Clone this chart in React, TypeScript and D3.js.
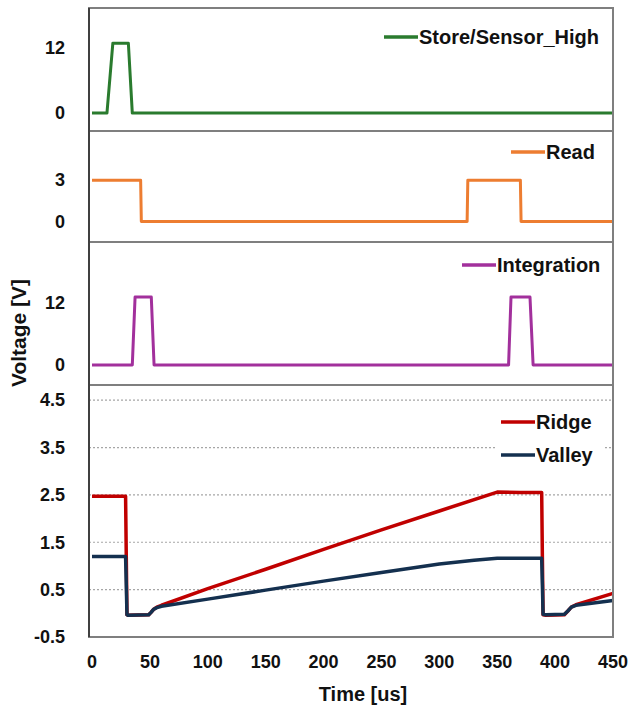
import * as d3 from 'd3'

const W = 630, H = 707
const X_LEFT = 89, X_RIGHT = 613
const FONT = '"Liberation Sans", Arial, sans-serif'

// time axis (us)
const timeTicks = [0, 50, 100, 150, 200, 250, 300, 350, 400, 450]

// traces: [time us, volts]
const storeHigh: [number, number][] = [
  [0, 0], [12.9, 0], [18, 12.9], [31.4, 12.9], [34.8, 0], [450, 0],
]
const readSig: [number, number][] = [
  [0, 2.98], [42, 2.98], [42.6, 0.02], [324, 0.02], [324.6, 2.98], [370, 2.98], [370.6, 0.02], [450, 0.02],
]
const integration: [number, number][] = [
  [0, 0], [34.8, 0], [37.2, 13.1], [51.2, 13.1], [53.6, 0], [359.8, 0], [361.9, 13.1], [378.3, 13.1], [381, 0], [450, 0],
]
const ridge: [number, number][] = [
  [0, 2.47], [29, 2.47], [29.6, 1.2], [30.2, -0.03], [31, -0.04], [49, -0.03], [51, 0.02], [53, 0.08],
  [56, 0.13], [60, 0.17], [100, 0.52], [150, 0.93], [200, 1.35], [250, 1.76], [300, 2.16], [350, 2.56],
  [370, 2.55], [388.4, 2.55], [389, 1.2], [389.6, -0.03], [392, -0.04], [408, -0.03], [411, 0.05],
  [414, 0.13], [418, 0.18], [450, 0.42],
]
const valley: [number, number][] = [
  [0, 1.2], [29, 1.2], [29.6, 0.6], [30.2, -0.03], [31, -0.04], [49, -0.03], [51, 0.02], [53, 0.08],
  [56, 0.12], [60, 0.15], [100, 0.3], [150, 0.49], [200, 0.68], [250, 0.86], [300, 1.04], [330, 1.12],
  [350, 1.16], [388.4, 1.16], [389, 0.6], [389.6, -0.02], [392, -0.03], [408, -0.02], [411, 0.05],
  [414, 0.13], [418, 0.17], [450, 0.27],
]

const panels = [
  { top: 8, bottom: 131, domain: [-3.3, 19.4], ticks: [0, 12], grid: false,
    series: [{ name: 'Store/Sensor_High', color: '#2a7b2e', data: storeHigh, ly: 37, lx: 419 }] },
  { top: 131, bottom: 242, domain: [-1.46, 6.53], ticks: [0, 3], grid: false,
    series: [{ name: 'Read', color: '#ed7d31', data: readSig, ly: 152, lx: 546 }] },
  { top: 242, bottom: 385, domain: [-3.85, 23.7], ticks: [0, 12], grid: false,
    series: [{ name: 'Integration', color: '#a2309c', data: integration, ly: 265, lx: 497 }] },
  { top: 385, bottom: 637, domain: [-0.5, 4.82], ticks: [-0.5, 0.5, 1.5, 2.5, 3.5, 4.5], grid: true,
    series: [
      { name: 'Ridge', color: '#c00000', data: ridge, ly: 422, lx: 536 },
      { name: 'Valley', color: '#14304f', data: valley, ly: 455, lx: 536 },
    ] },
]

export default function App() {
  const x = d3.scaleLinear().domain([-2.6, 450]).range([X_LEFT, X_RIGHT])

  return (
    <svg width={W} height={H} style={{ position: 'absolute', left: 0, top: 0, background: '#fff' }} fontFamily={FONT}>
      {panels.map((p, i) => {
        const y = d3.scaleLinear().domain(p.domain).range([p.bottom, p.top])
        const line = d3.line<[number, number]>().x((d) => x(d[0])).y((d) => y(d[1]))
        return (
          <g key={i}>
            {p.grid && p.ticks.filter((t) => t > -0.5).map((t) => (
              <line key={t} x1={X_LEFT} x2={X_RIGHT} y1={y(t)} y2={y(t)} stroke="#a6a6a6" strokeWidth={1.2} strokeDasharray="2,2" />
            ))}
            {p.grid && <rect x={495} y={406} width={108} height={64} fill="#fff" />}
            {p.series.map((s) => (
              <path key={s.name} d={line(s.data) ?? ''} fill="none" stroke={s.color} strokeWidth={p.grid ? 3.5 : 3} strokeLinejoin="round" />
            ))}
            {p.ticks.map((t) => (
              <text key={t} x={65} y={y(t)} dy="0.35em" textAnchor="end" fontSize={18} fontWeight="bold" fill="#111">{String(t)}</text>
            ))}
            {p.series.map((s) => (
              <g key={s.name + '-lg'}>
                <line x1={s.lx - 35} x2={s.lx - 1} y1={s.ly} y2={s.ly} stroke={s.color} strokeWidth={3.5} />
                <text x={s.lx} y={s.ly} dy="0.35em" fontSize={20} fontWeight="bold" fill="#111">{s.name}</text>
              </g>
            ))}
            <rect x={X_LEFT} y={p.top} width={X_RIGHT - X_LEFT} height={p.bottom - p.top} fill="none" stroke="#7f7f7f" strokeWidth={2} />
          </g>
        )
      })}
      <line x1={X_LEFT} x2={X_LEFT} y1={8} y2={637} stroke="#404040" strokeWidth={2} />
      {timeTicks.map((t) => (
        <text key={t} x={x(t)} y={662} dy="0.35em" textAnchor="middle" fontSize={18} fontWeight="bold" fill="#111">{t}</text>
      ))}
      <text x={363} y={694} dy="0.35em" textAnchor="middle" fontSize={20} fontWeight="bold" fill="#111">Time [us]</text>
      <text transform="translate(19,333) rotate(-90)" dy="0.35em" textAnchor="middle" fontSize={21} fontWeight="bold" fill="#111">Voltage [V]</text>
    </svg>
  )
}
